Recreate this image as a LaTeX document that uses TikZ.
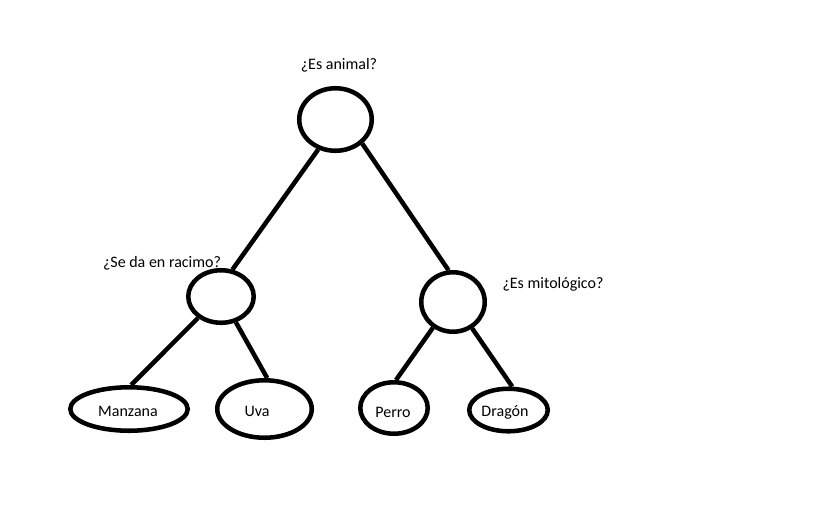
\documentclass[tikz,border=0pt]{standalone}
\usepackage{fontspec}
\setmainfont{Carlito}
\usetikzlibrary{shapes.geometric}
\begin{document}
\begin{tikzpicture}[x=0.75pt,y=-0.75pt,
  bubble/.style={ellipse,draw=black,line width=3.4pt,inner sep=0pt},
  caption/.style={font=\fontsize{12}{14}\selectfont,inner sep=0pt,anchor=base},
  branch/.style={line width=3.4pt}]
\useasboundingbox (0,0) rectangle (816,512);
\fill[white] (0,0) rectangle (816,512);

% question nodes
\node[bubble,minimum width=54.4pt,minimum height=46.9pt] (root) at (335.5,119.5) {};
\node[bubble,minimum width=49.1pt,minimum height=39.4pt] (fruit) at (221,296.5) {};
\node[bubble,minimum width=47.6pt,minimum height=44.6pt] (beast) at (453,302) {};

% answers
\node[bubble,minimum width=88.1pt,minimum height=32.6pt] (manzana) at (129,409) {};
\node[bubble,minimum width=70.9pt,minimum height=43.1pt] (uva) at (264.5,409) {};
\node[bubble,minimum width=50.6pt,minimum height=38.6pt] (perro) at (394,408) {};
\node[bubble,minimum width=58.9pt,minimum height=31.9pt] (dragon) at (508.5,410) {};

% answer labels
\node[caption] (tmanzana) at (128,416) {Manzana};
\node[caption] (tuva) at (257,416) {Uva};
\node[caption] (tperro) at (393,417) {Perro};
\node[caption] (tdragon) at (505,416) {Dragón};

% questions asked at each split
\node[caption] (q1) at (339,69.5) {¿Es animal?};
\node[caption] (q2) at (162,267) {¿Se da en racimo?};
\node[caption] (q3) at (553,288) {¿Es mitológico?};

% branches
\draw[branch] (root.240) -- (fruit.67);
\draw[branch] (root.318) -- (beast.98);
\draw[branch] (fruit.223) -- (manzana.85);
\draw[branch] (fruit.300) -- (uva.85);
\draw[branch] (beast.232) -- (perro.86);
\draw[branch] (beast.306) -- (dragon.81);
\end{tikzpicture}
\end{document}
